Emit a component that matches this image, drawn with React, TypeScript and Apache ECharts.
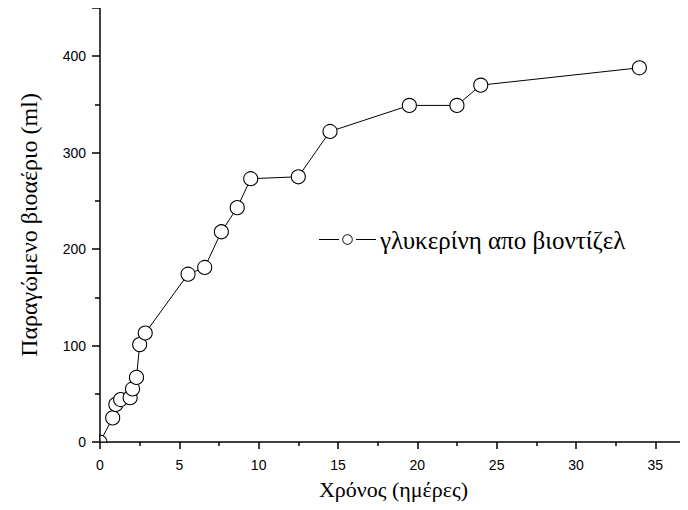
import React, { useEffect, useRef } from "react";
import * as echarts from "echarts";

const days = [0, 0.8, 1, 1.3, 1.9, 2.05, 2.3, 2.5, 2.85, 5.55, 6.6, 7.65, 8.65, 9.5, 12.5, 14.5, 19.5, 22.5, 24, 34];
const biogas = [0, 25, 39, 44, 46, 55, 67, 101, 113, 174, 181, 218, 243, 273, 275, 322, 349, 349, 370, 388];
const seriesName = "γλυκερίνη απο βιοντίζελ";
const xTitle = "Χρόνος (ημέρες)";
const yTitle = "Παραγώμενο βιοαέριο (ml)";

export default function App() {
  const ref = useRef<HTMLDivElement>(null);
  useEffect(() => {
    if (!ref.current) return;
    const chart = echarts.init(ref.current, null, { renderer: "svg" });
    const serif = "'Liberation Serif', 'DejaVu Serif', serif";
    const sans = "Liberation Sans";
    const legendY = 239.5;
    chart.setOption({
      animation: false,
      backgroundColor: "#ffffff",
      grid: { left: 100, right: 1, top: 8, bottom: 68, containLabel: false },
      graphic: [
        { type: "line", shape: { x1: 319, y1: legendY, x2: 339, y2: legendY }, style: { stroke: "#000", lineWidth: 1 } },
        { type: "circle", shape: { cx: 347.5, cy: legendY, r: 4.8 }, style: { fill: "#fff", stroke: "#000", lineWidth: 1 } },
        { type: "line", shape: { x1: 356, y1: legendY, x2: 376, y2: legendY }, style: { stroke: "#000", lineWidth: 1 } },
        {
          type: "text",
          x: 380,
          y: legendY + 1,
          style: { text: seriesName, fontFamily: serif, fontSize: 25, fill: "#000", verticalAlign: "middle", align: "left" },
        },
      ],
      xAxis: {
        type: "value",
        min: 0,
        max: 37,
        interval: 5,
        name: xTitle,
        nameLocation: "middle",
        nameGap: 36,
        nameTextStyle: { fontFamily: serif, fontSize: 22, color: "#000" },
        axisLine: { show: true, onZero: false, lineStyle: { color: "#000", width: 1.5 } },
        axisTick: { show: true, inside: false, length: 7, lineStyle: { color: "#000", width: 1.5 } },
        minorTick: { show: true, splitNumber: 2, length: 4, lineStyle: { color: "#000", width: 1.5 } },
        axisLabel: {
          margin: 16,
          fontFamily: sans,
          fontSize: 14,
          color: "#000",
          showMaxLabel: false,
          formatter: (v: number) => (v % 5 === 0 ? String(v) : ""),
        },
        splitLine: { show: false },
      },
      yAxis: {
        type: "value",
        min: 0,
        max: 450,
        interval: 100,
        name: yTitle,
        nameLocation: "middle",
        nameGap: 59,
        nameTextStyle: { fontFamily: serif, fontSize: 24, color: "#000" },
        axisLine: { show: true, onZero: false, lineStyle: { color: "#000", width: 1.5 } },
        axisTick: { show: true, inside: false, length: 8, lineStyle: { color: "#000", width: 1.5 } },
        minorTick: { show: true, splitNumber: 2, length: 5, lineStyle: { color: "#000", width: 1.5 } },
        axisLabel: {
          margin: 14,
          fontFamily: sans,
          fontSize: 14,
          color: "#000",
          showMaxLabel: false,
          formatter: (v: number) => (v % 100 === 0 ? String(v) : ""),
        },
        splitLine: { show: false },
      },
      series: [
        {
          name: seriesName,
          type: "line",
          data: days.map((d, i) => (i === 0 ? { value: [d, biogas[i]], symbol: "none" } : [d, biogas[i]])),
          symbol: "circle",
          symbolSize: 14,
          showAllSymbol: true,
          clip: true,
          z: 3,
          lineStyle: { color: "#000", width: 1 },
          itemStyle: { color: "#fff", borderColor: "#000", borderWidth: 1.1 },
        },
        {
          name: "origin",
          type: "custom",
          z: 4,
          data: [[days[0], biogas[0]]],
          renderItem: (params: any, api: any) => {
            const p = api.coord([api.value(0), api.value(1)]);
            return {
              type: "sector",
              shape: { cx: p[0], cy: p[1], r0: 0, r: 7, startAngle: -Math.PI / 2, endAngle: 0, clockwise: true },
              style: { fill: "#fff", stroke: "#000", lineWidth: 1.1 },
            };
          },
        },
      ],
    });
    return () => chart.dispose();
  }, []);
  return <div ref={ref} style={{ width: 688, height: 510, margin: -8 }} />;
}
